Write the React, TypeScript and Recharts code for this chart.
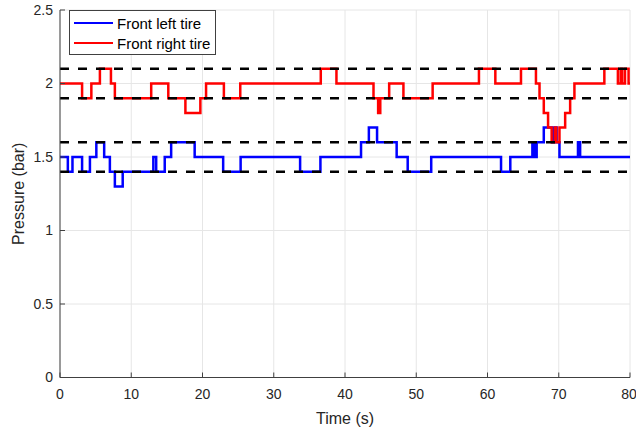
import { LineChart, Line, XAxis, YAxis, CartesianGrid, ReferenceLine } from 'recharts';

// time (s) where each step starts, and the pressure (bar) held until the next step
const leftTimes = [
  0, 1.1, 1.75, 3.1, 4.2, 5.1, 6.2, 7.0, 7.7, 8.8, 13.1, 13.5, 14.7, 15.6, 18.9, 22.9, 25.35,
  33.7, 36.55, 42.25, 43.35, 44.5, 47.25, 48.8, 52.1, 61.9, 63.2, 66.3, 66.6, 66.9, 67.9, 69.1,
  69.4, 69.7, 70.1, 72.7, 73.0, 80,
];
const leftValues = [
  1.5, 1.4, 1.5, 1.4, 1.5, 1.6, 1.5, 1.4, 1.3, 1.4, 1.5, 1.4, 1.5, 1.6, 1.5, 1.4, 1.5,
  1.4, 1.5, 1.6, 1.7, 1.6, 1.5, 1.4, 1.5, 1.4, 1.5, 1.6, 1.5, 1.6, 1.7, 1.6,
  1.7, 1.6, 1.5, 1.6, 1.5, 1.5,
];

const rightTimes = [
  0, 3.1, 4.4, 5.6, 7.15, 7.7, 12.8, 15.2, 17.6, 19.7, 20.5, 23.0, 25.3, 36.6, 38.8, 44.0,
  44.65, 44.95, 46.2, 48.2, 52.3, 58.8, 61.1, 64.7, 66.8, 67.3, 67.9, 68.5, 69.0, 69.45, 69.65,
  70.1, 70.9, 71.6, 72.2, 76.4, 78.3, 78.7, 78.9, 79.3, 79.8, 80,
];
const rightValues = [
  2.0, 1.9, 2.0, 2.1, 2.0, 1.9, 2.0, 1.9, 1.8, 1.9, 2.0, 1.9, 2.0, 2.1, 2.0, 1.9,
  1.8, 1.9, 2.0, 1.9, 2.0, 2.1, 2.0, 2.1, 2.0, 1.9, 1.8, 1.7, 1.6, 1.7, 1.6,
  1.7, 1.8, 1.9, 2.0, 2.1, 2.0, 2.1, 2.0, 2.1, 2.0, 2.0,
];

const thresholds = [2.1, 1.9, 1.6, 1.4];
const xTicks = [0, 10, 20, 30, 40, 50, 60, 70, 80];
const yTicks = [0, 0.5, 1, 1.5, 2, 2.5];

const series = [
  { name: 'Front left tire', color: '#0000ff', times: leftTimes, values: leftValues },
  { name: 'Front right tire', color: '#ff0000', times: rightTimes, values: rightValues },
];

const FONT = '"Liberation Sans", Arial, Helvetica, sans-serif';
const TEXT = '#262626';
const AXIS = '#404040';

export default function App() {
  const lines = series.map((s) => ({
    ...s,
    data: s.times.map((t, i) => ({ t, v: s.values[i] })),
  }));

  return (
    <div style={{ position: 'absolute', left: 0, top: 0, width: 636, height: 430, background: '#fff', fontFamily: FONT }}>
      <LineChart width={636} height={430} margin={{ top: 10, right: 6, left: 0, bottom: 0 }}>
        <CartesianGrid stroke="#e6e6e6" strokeWidth={1} />
        <XAxis
          dataKey="t"
          type="number"
          domain={[0, 80]}
          ticks={xTicks}
          allowDataOverflow
          height={52.5}
          stroke={AXIS}
          tickSize={-5}
          tickMargin={17}
          tick={{ fill: TEXT, fontSize: 14, fontFamily: FONT }}
          label={{ value: 'Time (s)', position: 'insideBottom', offset: 6, fill: TEXT, fontSize: 16, fontFamily: FONT }}
        />
        <XAxis
          xAxisId="top"
          orientation="top"
          dataKey="t"
          type="number"
          domain={[0, 80]}
          ticks={xTicks}
          height={0}
          stroke={AXIS}
          tickSize={-5}
          tickFormatter={() => ''}
        />
        <YAxis
          type="number"
          domain={[0, 2.5]}
          ticks={yTicks}
          width={60}
          stroke={AXIS}
          tickSize={-5}
          tickMargin={12}
          tick={{ fill: TEXT, fontSize: 14, fontFamily: FONT }}
          label={{
            value: 'Pressure (bar)',
            angle: -90,
            position: 'insideLeft',
            offset: 18,
            fill: TEXT,
            fontSize: 16,
            fontFamily: FONT,
            style: { textAnchor: 'middle' },
          }}
        />
        <YAxis
          yAxisId="right"
          orientation="right"
          type="number"
          domain={[0, 2.5]}
          ticks={yTicks}
          width={0}
          stroke={AXIS}
          tickSize={-5}
          tickFormatter={() => ''}
        />
        {lines.map((s) => (
          <Line
            key={s.name}
            data={s.data}
            dataKey="v"
            name={s.name}
            type="stepAfter"
            stroke={s.color}
            strokeWidth={2.5}
            dot={false}
            activeDot={false}
            isAnimationActive={false}
          />
        ))}
        {thresholds.map((y) => (
          <ReferenceLine key={y} y={y} stroke="#000" strokeWidth={2.5} strokeDasharray="9 9" />
        ))}
      </LineChart>
      <div
        style={{
          position: 'absolute',
          left: 69,
          top: 10,
          width: 147,
          height: 45,
          border: `1px solid ${AXIS}`,
          background: '#fff',
          boxSizing: 'border-box',
          fontSize: 15,
          color: '#000',
        }}
      >
        {series.map((s, i) => (
          <div key={s.name} style={{ position: 'absolute', left: 4, top: 3 + i * 20, height: 18, display: 'flex', alignItems: 'center' }}>
            <span style={{ display: 'inline-block', width: 39, height: 2.5, background: s.color, marginRight: 4 }} />
            <span style={{ whiteSpace: 'nowrap' }}>{s.name}</span>
          </div>
        ))}
      </div>
    </div>
  );
}
